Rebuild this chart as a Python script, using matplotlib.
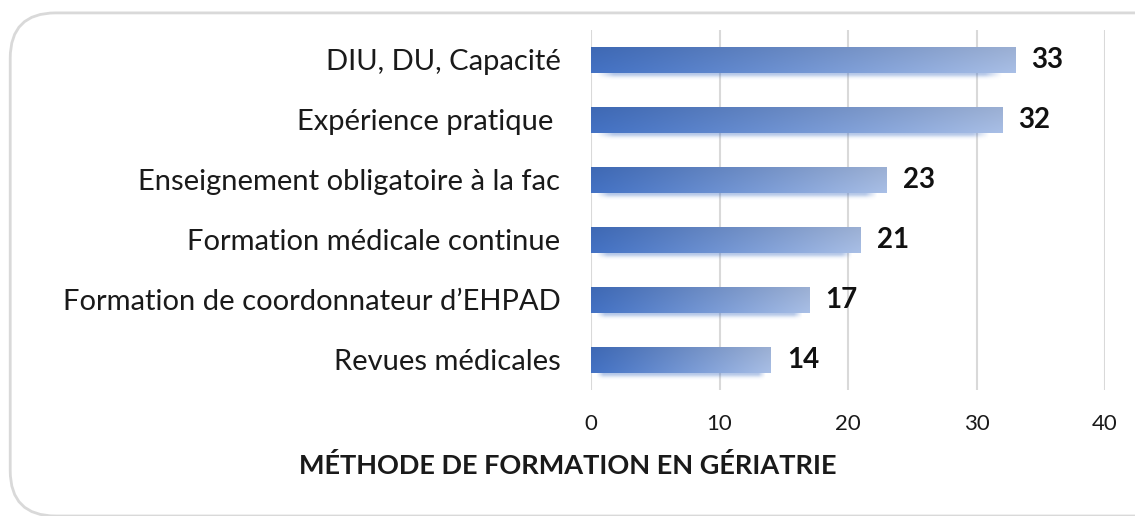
import matplotlib
matplotlib.use("Agg")
import matplotlib.pyplot as plt
import numpy as np
from matplotlib.patches import FancyBboxPatch
from matplotlib.colors import to_rgb

plt.rcParams['font.family'] = ['Lato', 'DejaVu Sans']

categories = ["DIU, DU, Capacité", "Expérience pratique ", "Enseignement obligatoire à la fac",
              "Formation médicale continue", "Formation de coordonnateur d\u2019EHPAD", "Revues médicales"]
values = [33, 32, 23, 21, 17, 14]
xticks = [0, 10, 20, 30, 40]
xlabel = "MÉTHODE DE FORMATION EN GÉRIATRIE"

fig = plt.figure(figsize=(11.35, 5.16), dpi=100)

# rounded chart border
border = FancyBboxPatch((0.009, 0.0), 1.2, 0.975, boxstyle="round,pad=0,rounding_size=0.04",
                        transform=fig.transFigure, fill=False, edgecolor="#d9d9d9", lw=2,
                        mutation_aspect=1135 / 516)
fig.patches.append(border)

ax = fig.add_axes([0.5207, 0.2442, 0.4529, 0.6977])

dark = np.array(to_rgb("#4472C4"))
light = np.array(to_rgb("#A9BFE6"))
h = 0.42

# horizontal gradient with slight vertical shading
nx, ny = 200, 20
fx = np.linspace(0, 1, nx)[None, :, None]
fy = np.linspace(0, 1, ny)[:, None, None]
grad = dark + (light - dark) * fx ** 1.1
grad = grad * (1 - 0.08 * (1 - fy))
grad = np.clip(grad, 0, 1)

for i, v in enumerate(values):
    # soft shadow below the bar
    sh = np.zeros((20, 200, 4))
    sy = np.linspace(-1, 1, 20)[:, None]
    sx = np.linspace(-1, 1, 200)[None, :]
    a = np.exp(-(sy / 0.55) ** 2) * np.clip((1 - np.abs(sx)) * 12, 0, 1)
    sh[..., :3] = to_rgb("#4472C4")
    sh[..., 3] = 0.4 * a
    ax.imshow(sh, extent=(0.4, v * 0.97, i + h / 2 + 0.13, i + h / 2 - 0.08),
              aspect='auto', zorder=2, interpolation='bilinear')
    ax.imshow(grad, extent=(0, v, i + h / 2, i - h / 2), aspect='auto', zorder=3,
              interpolation='bilinear')
    ax.annotate(str(v), (v, i), xytext=(16, 0), textcoords='offset pixels',
                ha='left', va='center', fontsize=20, fontweight='bold', color='#111111', zorder=4)

ax.set_xlim(0, 40)
ax.set_ylim(len(values) - 0.5, -0.5)
ax.set_yticks(range(len(values)))
ax.set_yticklabels(categories, fontsize=21, color='#1a1a1a')
ax.set_xticks(xticks)
ax.set_xticklabels([str(t) for t in xticks], fontsize=16, color='#1a1a1a')
ax.tick_params(axis='both', length=0)
ax.tick_params(axis='y', pad=22)
ax.tick_params(axis='x', pad=17)
ax.grid(axis='x', color='#d9d9d9', lw=1.5, zorder=0)
ax.set_axisbelow(True)
for s in ax.spines.values():
    s.set_visible(False)

fig.text(0.5, 0.098, xlabel, ha='center', va='center', fontsize=19.5, fontweight='bold', color='#1a1a1a')

fig.savefig("out.png", dpi=100)
